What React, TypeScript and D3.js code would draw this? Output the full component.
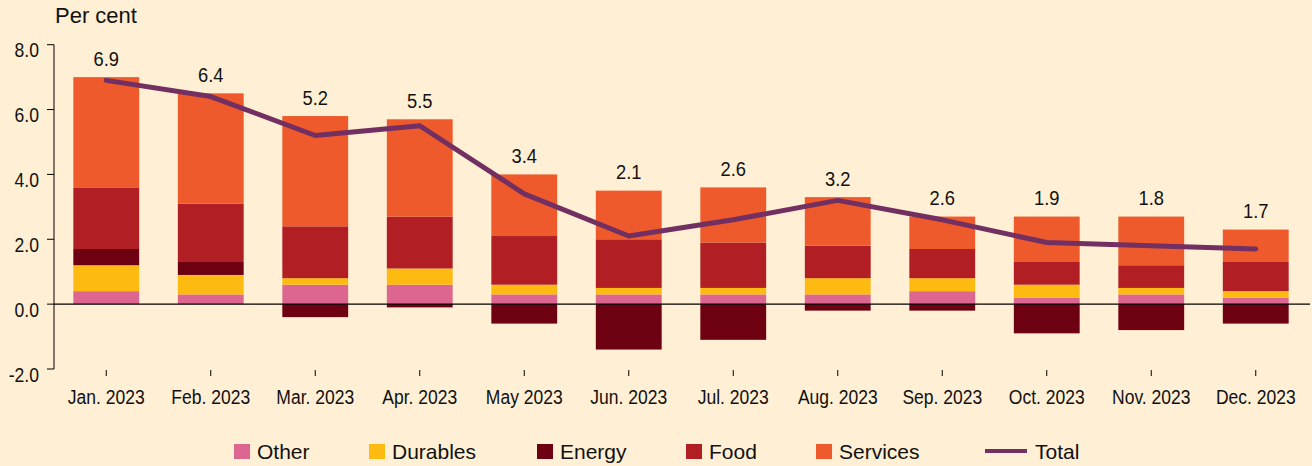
import React from "react";
import * as d3 from "d3";

const months = ["Jan. 2023","Feb. 2023","Mar. 2023","Apr. 2023","May 2023","Jun. 2023","Jul. 2023","Aug. 2023","Sep. 2023","Oct. 2023","Nov. 2023","Dec. 2023"];
const other =    [0.4,0.3,0.6,0.6,0.3,0.3,0.3,0.3,0.4,0.2,0.3,0.2];
const durables = [0.8,0.6,0.2,0.5,0.3,0.2,0.2,0.5,0.4,0.4,0.2,0.2];
const energy =   [0.5,0.4,-0.4,-0.1,-0.6,-1.4,-1.1,-0.2,-0.2,-0.9,-0.8,-0.6];
const food =     [1.9,1.8,1.6,1.6,1.5,1.5,1.4,1.0,0.9,0.7,0.7,0.9];
const services = [3.4,3.4,3.4,3.0,1.9,1.5,1.7,1.5,1.0,1.4,1.5,1.0];
const total =    [6.9,6.4,5.2,5.5,3.4,2.1,2.6,3.2,2.6,1.9,1.8,1.7];
const yTicks = [-2, 0, 2, 4, 6, 8];

const seriesNames = ["Other","Durables","Energy","Food","Services"];
const seriesData = [other, durables, energy, food, services];
const colors = ["#DC6690","#FDBB12","#6D0011","#B11E24","#EE5A2C"];
const lineColor = "#722F62";

const W = 1312, H = 466;
const FONT = "'Liberation Sans', Arial, Helvetica, sans-serif";
const legendX = [234, 369, 537, 686, 816];
const legendLineX = 985;

function NText({ x, y, size, sx, anchor, children }: any) {
  return (
    <g transform={`translate(${x},${y}) scale(${sx},1)`}>
      <text x={0} y={0} textAnchor={anchor} fontSize={size} fill="#111">{children}</text>
    </g>
  );
}

export default function App() {
  const x = d3.scaleBand<string>().domain(months).range([54, 1308]).paddingInner(0.37).paddingOuter(0.185);
  const y = d3.scaleLinear().domain([-2, 8]).range([369, 44.7]);

  const table = months.map((m, i) => {
    const row: any = { month: m };
    seriesNames.forEach((s, k) => (row[s] = seriesData[k][i]));
    return row;
  });
  const stacked = d3.stack<any>().keys(seriesNames).order(d3.stackOrderNone).offset(d3.stackOffsetDiverging)(table);

  const cx = (m: string) => (x(m) as number) + x.bandwidth() / 2;
  const line = d3.line<number>().x((_, i) => cx(months[i])).y((d) => y(d));

  const posTop = months.map((_, i) => d3.sum(seriesData, (s) => Math.max(0, s[i])));

  return (
    <svg width={W} height={H} style={{ position: "absolute", left: 0, top: 0, display: "block" }} fontFamily={FONT}>
      <rect x={0} y={0} width={W} height={H} fill="#FFEFD4" />
      <text x={55} y={23} fontSize={22} fill="#111">Per cent</text>

      {stacked.map((layer, k) => (
        <g key={layer.key} fill={colors[k]}>
          {layer.map((d, i) => (
            <rect key={i} x={x(months[i])} width={x.bandwidth()} y={y(Math.max(d[0], d[1]))} height={Math.abs(y(d[0]) - y(d[1]))} />
          ))}
        </g>
      ))}

      {/* zero line */}
      <line x1={54} x2={1310} y1={y(0)} y2={y(0)} stroke="#000" strokeWidth={1.3} />

      {/* y axis */}
      <line x1={54} x2={54} y1={y(8)} y2={y(-2)} stroke="#000" strokeWidth={1} />
      {yTicks.map((t) => (
        <g key={t}>
          <line x1={47} x2={54} y1={y(t)} y2={y(t)} stroke="#000" strokeWidth={1} />
          <NText x={39} y={y(t) + 12.5} size={19.5} sx={0.9} anchor="end">{t.toFixed(1)}</NText>
        </g>
      ))}

      {/* x ticks & labels */}
      {months.map((m) => (
        <g key={m}>
          <line x1={cx(m)} x2={cx(m)} y1={370} y2={376} stroke="#000" strokeWidth={1} />
          <NText x={cx(m)} y={403.5} size={20} sx={0.875} anchor="middle">{m}</NText>
        </g>
      ))}

      {/* total line */}
      <path d={line(total) || ""} fill="none" stroke={lineColor} strokeWidth={5} strokeLinecap="round" strokeLinejoin="round" />

      {/* value labels */}
      {months.map((m, i) => (
        <NText key={m} x={cx(m)} y={y(posTop[i]) - 11.5} size={19.5} sx={0.94} anchor="middle">{total[i].toFixed(1)}</NText>
      ))}

      {/* legend */}
      {seriesNames.map((s, k) => (
        <g key={s}>
          <rect x={legendX[k]} y={444} width={16} height={15} fill={colors[k]} />
          <text x={legendX[k] + 23} y={459} fontSize={21} fill="#111">{s}</text>
        </g>
      ))}
      <line x1={legendLineX} x2={legendLineX + 42} y1={451} y2={451} stroke={lineColor} strokeWidth={4} />
      <text x={legendLineX + 50} y={459} fontSize={21} fill="#111">Total</text>
    </svg>
  );
}
